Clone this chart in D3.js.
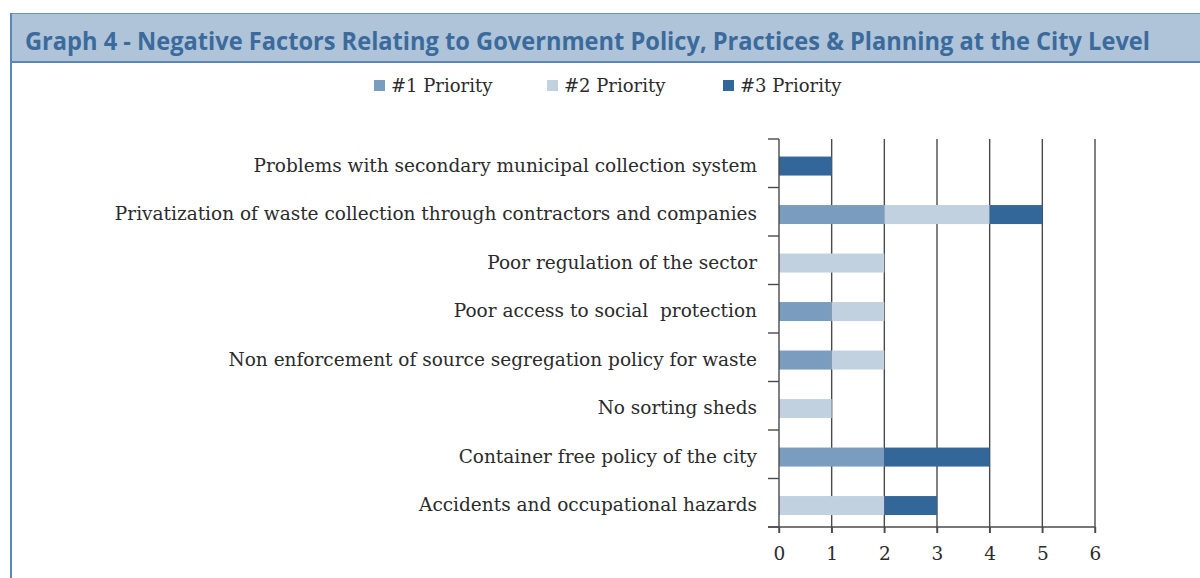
<!DOCTYPE html>
<html>
<head>
<meta charset="utf-8">
<script src="https://cdn.jsdelivr.net/npm/d3@7"></script>
<style>
  body { margin: 0; background: #fff; }
  svg { display: block; }
</style>
</head>
<body>
<div id="chart"></div>
<script>
const categories = [
    "Problems with secondary municipal collection system",
    "Privatization of waste collection through contractors and companies",
    "Poor regulation of the sector",
    "Poor access to social  protection",
    "Non enforcement of source segregation policy for waste",
    "No sorting sheds",
    "Container free policy of the city",
    "Accidents and occupational hazards"
];
const seriesNames = ["#1 Priority", "#2 Priority", "#3 Priority"];
const priority1 = [0, 2, 0, 1, 1, 0, 2, 0];
const priority2 = [0, 2, 2, 1, 1, 1, 0, 2];
const priority3 = [1, 1, 0, 0, 0, 0, 2, 1];
const xTicks = [0, 1, 2, 3, 4, 5, 6];
const colors = ["#7a9cbe", "#c2d1e0", "#336699"];

const width = 1200, height = 578;
const margin = { top: 139, left: 779, right: 105, bottom: 51 };
const serif = "'DejaVu Serif', serif";

const svg = d3.select("#chart").append("svg")
    .attr("width", width)
    .attr("height", height);

// header band
svg.append("rect")
    .attr("x", 10).attr("y", 13)
    .attr("width", width - 10).attr("height", 48)
    .attr("fill", "#b0c4d9");
svg.append("line")
    .attr("x1", 10).attr("x2", width).attr("y1", 13.5).attr("y2", 13.5)
    .attr("stroke", "#6e93bb").attr("stroke-width", 1);
svg.append("line")
    .attr("x1", 10).attr("x2", width).attr("y1", 62).attr("y2", 62)
    .attr("stroke", "#5b87b5").attr("stroke-width", 2);
svg.append("line")
    .attr("x1", 11).attr("x2", 11).attr("y1", 13).attr("y2", height)
    .attr("stroke", "#5b87b5").attr("stroke-width", 2);

svg.append("text")
    .attr("x", 25).attr("y", 50)
    .attr("font-family", "'Open Sans', sans-serif")
    .attr("font-weight", "bold")
    .attr("font-size", 24.5)
    .attr("fill", "#3b6b9c")
    .attr("textLength", 1125)
    .attr("lengthAdjust", "spacingAndGlyphs")
    .text("Graph 4 - Negative Factors Relating to Government Policy, Practices & Planning at the City Level");

// data stacking
const rows = categories.map((c, i) => ({
    cat: c, p1: priority1[i], p2: priority2[i], p3: priority3[i]
}));
const stack = d3.stack().keys(["p1", "p2", "p3"])(rows);

const x = d3.scaleLinear()
    .domain([0, 6])
    .range([margin.left, width - margin.right]);
const y = d3.scaleBand()
    .domain(categories)
    .range([margin.top, height - margin.bottom])
    .paddingInner(0.6).paddingOuter(0.3);

const g = svg.append("g");

// vertical gridlines
g.selectAll(".grid")
    .data(xTicks.slice(1))
    .join("line")
    .attr("x1", d => x(d)).attr("x2", d => x(d))
    .attr("y1", margin.top).attr("y2", height - margin.bottom + 6)
    .attr("stroke", "#4a4a4a").attr("stroke-width", 1.4);

// bars
g.selectAll(".series")
    .data(stack)
    .join("g")
    .attr("fill", (d, i) => colors[i])
    .selectAll("rect")
    .data(d => d.filter(s => s[1] > s[0]))
    .join("rect")
    .attr("x", d => x(d[0]))
    .attr("width", d => x(d[1]) - x(d[0]))
    .attr("y", d => y(d.data.cat) + 3)
    .attr("height", 19);

// y axis
const yAxisG = svg.append("g");
yAxisG.append("line")
    .attr("x1", x(0)).attr("x2", x(0))
    .attr("y1", margin.top).attr("y2", height - margin.bottom + 6)
    .attr("stroke", "#4a4a4a").attr("stroke-width", 1.4);
const step = (height - margin.bottom - margin.top) / categories.length;
yAxisG.selectAll(".ytick")
    .data(d3.range(categories.length + 1))
    .join("line")
    .attr("x1", x(0) - 11).attr("x2", x(0))
    .attr("y1", d => margin.top + d * step).attr("y2", d => margin.top + d * step)
    .attr("stroke", "#4a4a4a").attr("stroke-width", 1.4);
yAxisG.selectAll(".ylabel")
    .data(categories)
    .join("text")
    .attr("x", 757)
    .attr("y", d => y(d) + 11.5)
    .attr("dy", "0.35em")
    .attr("text-anchor", "end")
    .attr("font-family", serif)
    .attr("font-size", 18.5)
    .attr("fill", "#2b2b2b")
    .attr("xml:space", "preserve")
    .text(d => d);

// x axis
const xAxis = d3.axisBottom(x)
    .tickValues(xTicks)
    .tickFormat(d3.format("d"))
    .tickSize(6)
    .tickSizeOuter(0);
const xAxisG = svg.append("g")
    .attr("transform", `translate(0,${height - margin.bottom})`)
    .call(xAxis);
xAxisG.select(".domain")
    .attr("stroke", "#4a4a4a").attr("stroke-width", 1.4)
    .attr("d", `M${x(0) - 11},0H${x(6)}`);
xAxisG.selectAll(".tick line").attr("stroke", "#4a4a4a").attr("stroke-width", 1.4);
xAxisG.selectAll(".tick text")
    .attr("y", 20)
    .attr("font-family", serif)
    .attr("font-size", 18.5)
    .attr("fill", "#2b2b2b");

// legend
const legendX = [374, 547, 723];
const legend = svg.append("g").selectAll("g")
    .data(seriesNames)
    .join("g")
    .attr("transform", (d, i) => `translate(${legendX[i]},85)`);
legend.append("rect")
    .attr("x", 0).attr("y", -5)
    .attr("width", 11).attr("height", 11)
    .attr("fill", (d, i) => colors[i]);
legend.append("text")
    .attr("x", 17).attr("y", 1)
    .attr("dy", "0.35em")
    .attr("font-family", serif)
    .attr("font-size", 18)
    .attr("fill", "#2b2b2b")
    .text(d => d);
</script>
</body>
</html>
